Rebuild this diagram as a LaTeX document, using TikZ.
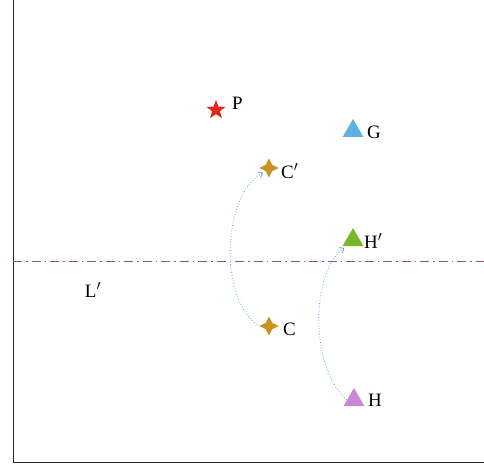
\documentclass[tikz,border=0pt]{standalone}
\usepackage{fontspec}
\setmainfont{Liberation Serif}
\usepackage{tikz}
\usetikzlibrary{shapes.geometric, arrows.meta, positioning}

\definecolor{starred}{RGB}{224,40,30}
\definecolor{gold}{RGB}{200,148,32}
\definecolor{skyblue}{RGB}{96,176,224}
\definecolor{leafgreen}{RGB}{120,184,40}
\definecolor{lilac}{RGB}{200,136,216}
\definecolor{mauve}{RGB}{165,75,140}
\definecolor{dotblue}{RGB}{90,170,225}

\begin{document}
\begin{tikzpicture}[
    x=1bp, y=-1bp,
    fivestar/.style={star, star points=5, star point ratio=2.4, fill=starred,
                     inner sep=0pt, minimum size=20bp},
    fourstar/.style={star, star points=4, star point ratio=2.1, fill=gold,
                     inner sep=0pt, minimum size=19bp},
    tri/.style={regular polygon, regular polygon sides=3, inner sep=0pt,
                minimum size=24bp},
    lbl/.style={font=\fontsize{19}{21}\selectfont, inner sep=1bp},
    flow/.style={dotted, thick, dotblue, shorten >=3bp,
                 -{Straight Barb[length=4bp, width=7bp]}}
]
    % frame and axis line
    \useasboundingbox (0,0) rectangle (484,465);
    \draw[thick, black!85] (13,0) -- (13,462) -- (484,462);
    \draw[mauve, line width=0.8pt, dash pattern=on 9bp off 4bp on 1.5bp off 4bp]
        (13,261) -- (484,261);

    % points
    \node[fivestar] (P) at (216,110) {};
    \node[fourstar] (Cp) at (269,168) {};
    \node[fourstar] (C) at (269,326) {};
    \node[tri, fill=skyblue] (G) at (353,131) {};
    \node[tri, fill=leafgreen] (Hp) at (353,240) {};
    \node[tri, fill=lilac] (H) at (354,400) {};

    % labels
    \node[lbl, anchor=west] (lP) at (231,103) {P};
    \node[lbl, anchor=west] (lG) at (366,132) {G};
    \node[lbl, anchor=west] (lCp) at (280,171) {C$'$};
    \node[lbl, anchor=west] (lHp) at (363,241) {H$'$};
    \node[lbl, anchor=west] (lC) at (282,329) {C};
    \node[lbl, anchor=west] (lH) at (367,400) {H};
    \node[lbl] (lL) at (93,290) {L$'$};

    % reflections
    \draw[flow] (C.west) .. controls (218,300) and (222,195) .. (Cp.south west);
    \draw[flow] (H.west) .. controls (308,365) and (312,270) .. (Hp.south west);
\end{tikzpicture}
\end{document}
